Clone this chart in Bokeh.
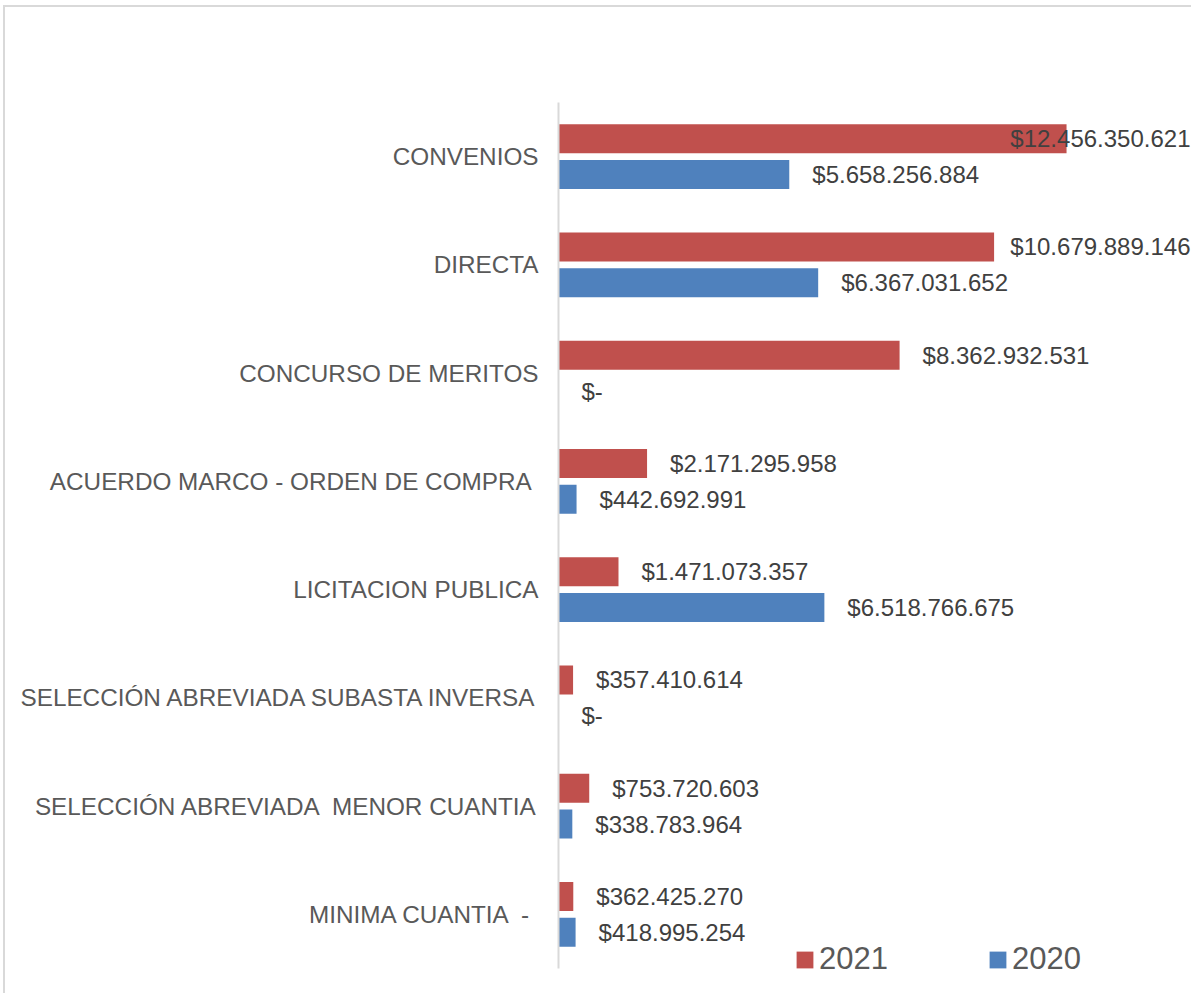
from bokeh.plotting import figure
from bokeh.models import ColumnDataSource, Range1d, Legend, LegendItem, FixedTicker
from bokeh.core.properties import value
from bokeh.embed import file_html
from bokeh.resources import INLINE

categories = [
    "CONVENIOS",
    "DIRECTA",
    "CONCURSO DE MERITOS",
    "ACUERDO MARCO - ORDEN DE COMPRA ",
    "LICITACION PUBLICA",
    "SELECCIÓN ABREVIADA SUBASTA INVERSA",
    "SELECCIÓN ABREVIADA \u00a0MENOR CUANTIA",
    "MINIMA CUANTIA \u00a0- ",
]
v2021 = [12456350621, 10679889146, 8362932531, 2171295958,
         1471073357, 357410614, 753720603, 362425270]
v2020 = [5658256884, 6367031652, 0, 442692991,
         6518766675, 0, 338783964, 418995254]
series = ["2021", "2020"]
colors = ["#C0504D", "#4F81BD"]

FONT = "Liberation Sans"
W, H = 1191, 993
LEFT, TOP, BOTTOM, RIGHT = 558, 102, 5, 0
N = len(categories)
FRAME_W = W - LEFT - RIGHT
FRAME_H = H - TOP - BOTTOM
BAND_PX = 866 / N                      # pixel height of one category band
Y_START = -0.5 - (FRAME_H - 866) / BAND_PX
X_END = 15.52e9
PX = FRAME_W / X_END
OFF = 23
SHIFT = 0.166
BAR_H = 0.268
LABEL_PX = 24

ypos = [N - 1 - i for i in range(N)]   # first category on top


def fmt(v):
    if v == 0:
        return "$-"
    return "$" + f"{v:,}".replace(",", ".")


def est_width(t):
    n = sum(ch.isdigit() or ch == "$" for ch in t)
    return LABEL_PX * (0.556 * n + 0.278 * t.count(".") + 0.333 * t.count("-"))


p = figure(
    width=W, height=H,
    y_range=Range1d(Y_START, N - 0.5),
    x_range=Range1d(0, X_END),
    output_backend="svg", toolbar_location=None,
    min_border_left=LEFT, min_border_top=TOP,
    min_border_bottom=BOTTOM, min_border_right=RIGHT,
)
p.styles = {
    "box-shadow": "inset 3px 5px 0 0 #ffffff, inset 5px 7px 0 0 #d9d9d9",
    "background-color": "#ffffff",
}
p.background_fill_color = None
p.border_fill_color = None
p.outline_line_color = None
p.xgrid.visible = False
p.ygrid.visible = False
p.xaxis.visible = False

ya = p.yaxis[0]
ya.ticker = FixedTicker(ticks=ypos)
ya.major_label_overrides = {y: c for y, c in zip(ypos, categories)}
ya.bounds = (-0.5, N - 0.5)
ya.axis_line_color = "#d9d9d9"
ya.axis_line_width = 2
ya.major_tick_line_color = None
ya.minor_tick_line_color = None
ya.major_tick_in = 0
ya.major_tick_out = 0
ya.major_label_standoff = 20
ya.major_label_text_font = FONT
ya.major_label_text_font_size = "24.3px"
ya.major_label_text_color = "#595959"

src = ColumnDataSource(dict(
    y21=[y + SHIFT for y in ypos], y20=[y - SHIFT for y in ypos],
    v2021=v2021, v2020=v2020))

r21 = p.hbar(y="y21", right="v2021", left=0, height=BAR_H, source=src,
             fill_color=colors[0], line_color=None)
r20 = p.hbar(y="y20", right="v2020", left=0, height=BAR_H, source=src,
             fill_color=colors[1], line_color=None)

for vals, sh in ((v2021, SHIFT), (v2020, -SHIFT)):
    normal = dict(y=[], x=[], text=[])
    over = dict(y=[], x=[], text=[])
    for yy, v in zip(ypos, vals):
        t = fmt(v)
        d = over if v * PX + OFF + est_width(t) > FRAME_W else normal
        d["y"].append(yy + sh)
        d["x"].append(X_END if d is over else v)
        d["text"].append(t)
    common = dict(text_baseline="middle", text_font=value(FONT),
                  text_font_size=f"{LABEL_PX}px", text_color="#404040")
    p.text(x="x", y="y", text="text", source=ColumnDataSource(normal),
           x_offset=OFF, text_align="left", **common)
    if over["y"]:
        p.text(x="x", y="y", text="text", source=ColumnDataSource(over),
               x_offset=-1, text_align="right", **common)

legend = Legend(
    items=[LegendItem(label=series[0], renderers=[r21]),
           LegendItem(label=series[1], renderers=[r20])],
    orientation="horizontal", location=(236, 11),
    glyph_width=21, glyph_height=21, label_standoff=4, spacing=99,
    padding=0, margin=0, border_line_color=None, background_fill_alpha=0,
    label_text_font=FONT, label_text_font_size="31px", label_text_color="#595959",
)
p.add_layout(legend, "center")

open("out.html", "w").write(file_html(p, INLINE))
